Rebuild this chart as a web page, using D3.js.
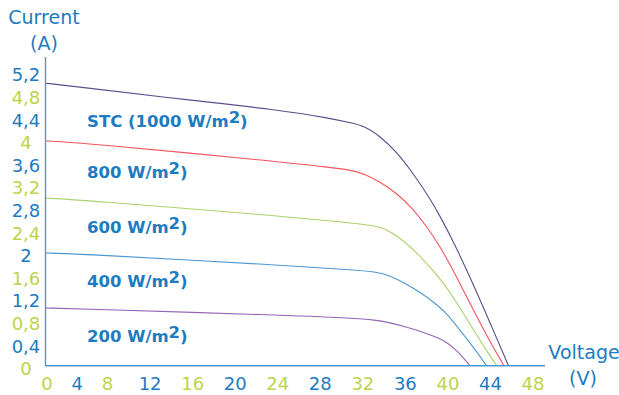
<!DOCTYPE html>
<html>
<head>
<meta charset="utf-8">
<script src="https://cdn.jsdelivr.net/npm/d3@7/dist/d3.min.js"></script>
<style>
  html, body { margin: 0; padding: 0; background: #ffffff; }
  svg { display: block; }
  text { font-family: "DejaVu Sans", "Open Sans", sans-serif; }
</style>
</head>
<body>
<svg id="chart" width="619" height="395"></svg>
<script>
// Irradiance levels and their I–V curves (voltage in V, current in A)
const seriesPrefix = ["STC (1000 W/m", "800 W/m", "600 W/m", "400 W/m", "200 W/m"];
const seriesColors = ["#5a4e8c", "#f2555c", "#a9d36b", "#4d98d3", "#9565b5"];

const voltageSTC = [0, 4.49, 15.84, 24.30, 29.01, 30.89, 32.14, 33.71, 35.28, 36.84, 38.25, 39.35, 40.60, 42.48, 44.05, 45.79];
const currentSTC = [5.00, 4.93, 4.70, 4.525, 4.379, 4.30, 4.25, 4.065, 3.782, 3.400, 3.004, 2.650, 2.202, 1.441, 0.761, 0];

const voltage800 = [0, 4.49, 24.30, 29.01, 30.89, 32.14, 33.71, 35.28, 36.69, 37.94, 39.35, 40.92, 42.48, 44.05, 45.37];
const current800 = [3.977, 3.947, 3.611, 3.511, 3.464, 3.405, 3.257, 3.051, 2.800, 2.506, 2.119, 1.570, 0.986, 0.425, 0];

const voltage600 = [0, 4.49, 24.30, 31.36, 33.24, 34.49, 36.06, 37.56, 38.78, 39.82, 40.92, 42.48, 43.74, 44.68];
const current600 = [2.968, 2.933, 2.650, 2.520, 2.478, 2.402, 2.195, 1.924, 1.667, 1.428, 1.119, 0.641, 0.260, 0];

const voltage400 = [0, 4.49, 24.30, 31.36, 33.24, 34.49, 36.06, 37.63, 38.88, 39.82, 40.92, 42.48, 43.74];
const current400 = [1.995, 1.977, 1.782, 1.694, 1.664, 1.605, 1.458, 1.281, 1.104, 0.956, 0.703, 0.331, 0];

const voltage200 = [0, 4.49, 24.30, 31.36, 33.24, 34.49, 36.06, 37.63, 38.88, 39.82, 40.92, 42.17];
const current200 = [1.021, 1.004, 0.897, 0.839, 0.809, 0.768, 0.690, 0.602, 0.513, 0.437, 0.278, 0];

const voltageTicks = [0, 4, 8, 12, 16, 20, 24, 28, 32, 36, 40, 44, 48];
const currentTicks = [0, 0.4, 0.8, 1.2, 1.6, 2, 2.4, 2.8, 3.2, 3.6, 4, 4.4, 4.8, 5.2];

const tickBlue = "#1d7bc2";
const tickGreen = "#bcd449";

const svg = d3.select("#chart");

// Voltage axis: first segment (0–8 V) is compressed
const x = d3.scaleLinear().domain([0, 8, 48]).range([46, 106.6, 532]);
const y = d3.scaleLinear().domain([0, 5.2]).range([365.7, 71.9]);

const curves = [
  [voltageSTC, currentSTC],
  [voltage800, current800],
  [voltage600, current600],
  [voltage400, current400],
  [voltage200, current200]
];

const line = d3.line()
  .x(d => x(d[0]))
  .y(d => y(d[1]))
  .curve(d3.curveBasis);

svg.append("g")
  .selectAll("path")
  .data(curves)
  .join("path")
  .attr("d", c => line(d3.zip(c[0], c[1])))
  .attr("fill", "none")
  .attr("stroke", (c, i) => seriesColors[i])
  .attr("stroke-width", 1.1);

// Axis lines
const axisColor = "#4d98d3";
svg.append("line")
  .attr("x1", 45.5).attr("x2", 45.5)
  .attr("y1", 57).attr("y2", y(0))
  .attr("stroke", axisColor).attr("stroke-width", 1.4);
svg.append("line")
  .attr("x1", 45).attr("x2", 545)
  .attr("y1", y(0)).attr("y2", y(0))
  .attr("stroke", axisColor).attr("stroke-width", 1.4);

const comma = d3.formatLocale({ decimal: ",", thousands: ".", grouping: [3], currency: ["", ""] });
const fmt = v => comma.format("~g")(v);

// Current tick labels, alternating blue / green from the top
svg.append("g")
  .selectAll("text")
  .data(currentTicks)
  .join("text")
  .attr("x", 26)
  .attr("y", d => y(d) + 9.5)
  .attr("text-anchor", "middle")
  .attr("font-size", 18)
  .attr("fill", (d, i) => (currentTicks.length - 1 - i) % 2 === 0 ? tickBlue : tickGreen)
  .text(fmt);

// Voltage tick labels, alternating green / blue from zero
svg.append("g")
  .selectAll("text")
  .data(voltageTicks)
  .join("text")
  .attr("x", d => x(d) + 1)
  .attr("y", 389.5)
  .attr("text-anchor", "middle")
  .attr("font-size", 18)
  .attr("fill", (d, i) => i % 2 === 0 ? tickGreen : tickBlue)
  .text(d => d);

// Axis titles
svg.append("text").attr("x", 44).attr("y", 24).attr("text-anchor", "middle")
  .attr("font-size", 19).attr("fill", tickBlue).text("Current");
svg.append("text").attr("x", 44).attr("y", 50).attr("text-anchor", "middle")
  .attr("font-size", 19).attr("fill", tickBlue).text("(A)");
svg.append("text").attr("x", 584).attr("y", 359).attr("text-anchor", "middle")
  .attr("font-size", 19).attr("fill", tickBlue).text("Voltage");
svg.append("text").attr("x", 583).attr("y", 385).attr("text-anchor", "middle")
  .attr("font-size", 19).attr("fill", tickBlue).text("(V)");

// Irradiance labels with superscript exponent
const labelBaselines = [127, 178, 233, 287, 342];
const labels = svg.append("g")
  .selectAll("text")
  .data(seriesPrefix)
  .join("text")
  .attr("x", 87)
  .attr("y", (d, i) => labelBaselines[i])
  .attr("font-size", 16.5)
  .attr("font-weight", "bold")
  .attr("fill", tickBlue);
labels.append("tspan").text(d => d);
labels.append("tspan").attr("dy", -4.5).text("2");
labels.append("tspan").attr("dy", 4.5).text(")");
</script>
</body>
</html>
